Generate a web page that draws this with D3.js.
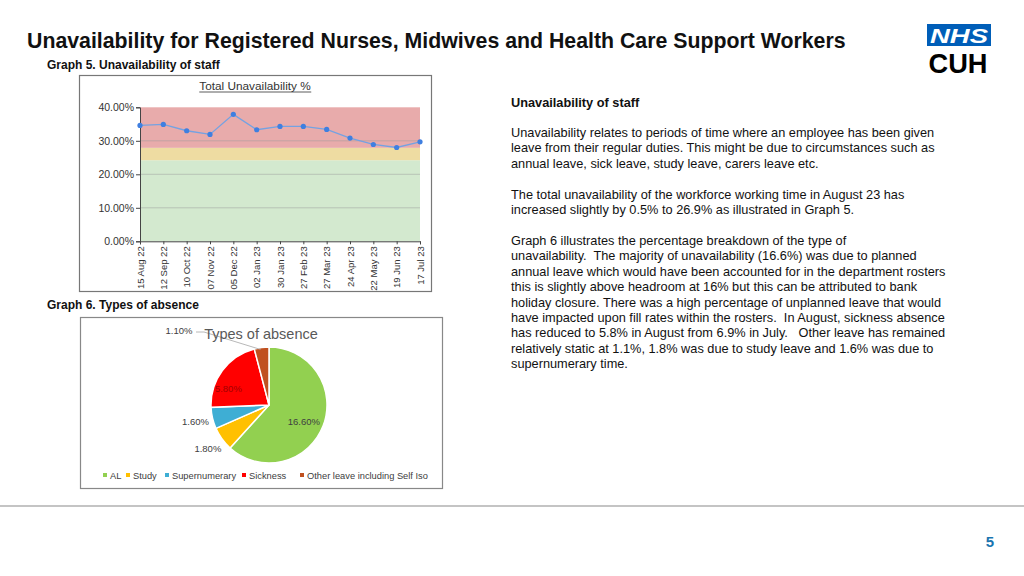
<!DOCTYPE html>
<html>
<head>
<meta charset="utf-8">
<script src="https://cdn.jsdelivr.net/npm/d3@7/dist/d3.min.js"></script>
<style>
  html, body { margin: 0; padding: 0; background: #fff; }
  svg { display: block; font-family: "Liberation Sans", Arial, sans-serif; }
  .pre { white-space: pre; }
</style>
</head>
<body>
<svg id="page" width="1024" height="576"></svg>
<script>
// ---------- DATA ----------
const weeks = ["15 Aug 22","12 Sep 22","10 Oct 22","07 Nov 22","05 Dec 22","02 Jan 23","30 Jan 23","27 Feb 23","27 Mar 23","24 Apr 23","22 May 23","19 Jun 23","17 Jul 23"];
const totalUnavailability = [34.6, 34.9, 33.0, 31.9, 37.9, 33.3, 34.3, 34.3, 33.4, 30.8, 28.9, 28.0, 29.7];
const yTicks = [0, 10, 20, 30, 40];
const bandLower = [0, 24.2, 27.9];
const bandUpper = [24.2, 27.9, 40];
const bandColors = ["#d3e9cf", "#eedca2", "#e8abab"];

const absenceTypes = ["AL", "Study", "Supernumerary", "Sickness", "Other leave including Self Iso"];
const absenceValues = [16.6, 1.8, 1.6, 5.8, 1.1];
const absenceColors = ["#92d050", "#ffc000", "#3eaed4", "#ff0000", "#c0501f"];

const paragraphs = [
  ["Unavailability relates to periods of time where an employee has been given",
   "leave from their regular duties. This might be due to circumstances such as",
   "annual leave, sick leave, study leave, carers leave etc."],
  ["The total unavailability of the workforce working time in August 23 has",
   "increased slightly by 0.5% to 26.9% as illustrated in Graph 5."],
  ["Graph 6 illustrates the percentage breakdown of the type of",
   "unavailability.  The majority of unavailability (16.6%) was due to planned",
   "annual leave which would have been accounted for in the department rosters",
   "this is slightly above headroom at 16% but this can be attributed to bank",
   "holiday closure. There was a high percentage of unplanned leave that would",
   "have impacted upon fill rates within the rosters.  In August, sickness absence",
   "has reduced to 5.8% in August from 6.9% in July.   Other leave has remained",
   "relatively static at 1.1%, 1.8% was due to study leave and 1.6% was due to",
   "supernumerary time."]
];

// ---------- PAGE ----------
const svg = d3.select("#page");

svg.append("text").attr("x", 27).attr("y", 48)
  .attr("font-size", 21.3).attr("font-weight", "bold").attr("fill", "#111")
  .text("Unavailability for Registered Nurses, Midwives and Health Care Support Workers");
svg.append("text").attr("x", 47).attr("y", 69)
  .attr("font-size", 12).attr("font-weight", "bold").attr("fill", "#111")
  .text("Graph 5. Unavailability of staff");
svg.append("text").attr("x", 47).attr("y", 309)
  .attr("font-size", 12).attr("font-weight", "bold").attr("fill", "#111")
  .text("Graph 6. Types of absence");

// NHS logo
const logo = svg.append("g");
logo.append("rect").attr("x", 927).attr("y", 24).attr("width", 64).attr("height", 22).attr("fill", "#005eb8");
logo.append("text").attr("x", 959).attr("y", 42.5).attr("text-anchor", "middle")
  .attr("font-size", 20).attr("font-weight", "bold").attr("font-style", "italic").attr("fill", "#fff")
  .attr("textLength", 58).attr("lengthAdjust", "spacingAndGlyphs").text("NHS");
logo.append("text").attr("x", 958).attr("y", 73).attr("text-anchor", "middle")
  .attr("font-size", 28).attr("font-weight", "bold").attr("fill", "#000")
  .attr("textLength", 59).attr("lengthAdjust", "spacingAndGlyphs").text("CUH");

// Right text block
const tb = svg.append("g").attr("font-size", 12.75).attr("fill", "#111");
tb.append("text").attr("x", 511).attr("y", 107).attr("font-weight", "bold").text("Unavailability of staff");
const paraStarts = [137, 199, 245];
paragraphs.forEach((lines, pi) => {
  lines.forEach((ln, li) => {
    tb.append("text").attr("class", "pre").attr("x", 511).attr("y", paraStarts[pi] + li * 15.4).text(ln);
  });
});

// Footer rule and page number
svg.append("line").attr("x1", 0).attr("x2", 1024).attr("y1", 506).attr("y2", 506)
  .attr("stroke", "#b0b0b0").attr("stroke-width", 1.5);
svg.append("text").attr("x", 990).attr("y", 547).attr("text-anchor", "middle")
  .attr("font-size", 15).attr("font-weight", "bold").attr("fill", "#1a75b0").text("5");

// ---------- GRAPH 5: LINE CHART ----------
svg.append("rect").attr("x", 79.5).attr("y", 75.5).attr("width", 352).attr("height", 216)
  .attr("fill", "#fff").attr("stroke", "#777").attr("stroke-width", 1.2);

const plot = { left: 140, right: 420, top: 107.3, bottom: 241.3 };
const x = d3.scalePoint().domain(weeks).range([plot.left, plot.right]).padding(0);
const y = d3.scaleLinear().domain([0, 40]).range([plot.bottom, plot.top]);

const g5 = svg.append("g");
g5.selectAll("rect.band").data(bandLower).enter().append("rect").attr("class", "band")
  .attr("x", plot.left).attr("width", plot.right - plot.left)
  .attr("y", (d, i) => y(bandUpper[i])).attr("height", (d, i) => y(d) - y(bandUpper[i]))
  .attr("fill", (d, i) => bandColors[i]);

g5.selectAll("line.grid").data(yTicks.filter(t => t > 0 && t < 40)).enter().append("line")
  .attr("x1", plot.left).attr("x2", plot.right)
  .attr("y1", d => y(d)).attr("y2", d => y(d))
  .attr("stroke", "#9a9a9a").attr("stroke-opacity", 0.6).attr("stroke-width", 0.8);

const yAxis = g5.append("g").attr("transform", `translate(${plot.left},0)`)
  .call(d3.axisLeft(y).tickValues(yTicks).tickSize(4).tickPadding(2).tickFormat(d => d.toFixed(2) + "%"));
yAxis.select(".domain").attr("stroke", "#444");
yAxis.selectAll(".tick line").attr("stroke", "#444");
yAxis.selectAll("text").attr("font-size", 10.5).attr("fill", "#333").attr("font-family", "Liberation Sans, Arial");

const xAxis = g5.append("g").attr("transform", `translate(0,${plot.bottom})`)
  .call(d3.axisBottom(x).tickSize(3).tickPadding(4));
xAxis.select(".domain").attr("stroke", "#444");
xAxis.selectAll(".tick line").attr("stroke", "#444");
xAxis.selectAll("text")
  .attr("font-size", 9.5).attr("fill", "#333")
  .attr("font-family", "Liberation Sans Narrow, Arial Narrow, Liberation Sans")
  .attr("text-anchor", "end").attr("dy", "0.32em")
  .attr("transform", "rotate(-90)").attr("x", -5).attr("y", 0);

g5.append("path").datum(totalUnavailability)
  .attr("fill", "none").attr("stroke", "#74a2e2").attr("stroke-width", 1.3)
  .attr("d", d3.line().x((d, i) => x(weeks[i])).y(d => y(d)));
g5.selectAll("circle.pt").data(totalUnavailability).enter().append("circle")
  .attr("cx", (d, i) => x(weeks[i])).attr("cy", d => y(d)).attr("r", 2.6)
  .attr("fill", "#3f7fe0");

const t5 = g5.append("text").attr("x", 255).attr("y", 90).attr("text-anchor", "middle")
  .attr("font-size", 11.8).attr("fill", "#333").text("Total Unavailability %");
const tb5 = t5.node().getBBox();
g5.append("line").attr("x1", tb5.x).attr("x2", tb5.x + tb5.width).attr("y1", 92).attr("y2", 92)
  .attr("stroke", "#333").attr("stroke-width", 0.8);

// ---------- GRAPH 6: PIE ----------
svg.append("rect").attr("x", 80.5).attr("y", 317.5).attr("width", 362).attr("height", 171)
  .attr("fill", "#fff").attr("stroke", "#888").attr("stroke-width", 1.2);

const cx = 269, cy = 405, r = 58;
const pie = d3.pie().sort(null).value(d => d)(absenceValues);
const arc = d3.arc().innerRadius(0).outerRadius(r);
const inArc = d3.arc().innerRadius(r * 0.7).outerRadius(r * 0.7);
const outArc = d3.arc().innerRadius(r * 1.3).outerRadius(r * 1.3);
const g6 = svg.append("g").attr("transform", `translate(${cx},${cy})`);

g6.selectAll("path.slice").data(pie).enter().append("path")
  .attr("d", arc).attr("fill", (d, i) => absenceColors[i])
  .attr("stroke", "#fff").attr("stroke-width", 1.5);

svg.append("text").attr("x", 261).attr("y", 339).attr("text-anchor", "middle")
  .attr("font-size", 14.5).attr("fill", "#595959").text("Types of absence");

const fmt = v => v.toFixed(2) + "%";
pie.forEach((d, i) => {
  let pos, color = "#404040";
  if (i === 0) { pos = inArc.centroid(d); pos = [pos[0] - 3, pos[1] + 2]; }
  else if (i === 3) { pos = inArc.centroid(d); pos = [pos[0] - 8, pos[1] + 8]; color = "#a30000"; }
  else if (i === 4) {
    pos = [-90, -74];
    const edge = d3.arc().innerRadius(r).outerRadius(r).centroid(d);
    g6.append("polyline")
      .attr("points", [[pos[0] + 17, pos[1] + 1], [pos[0] + 25, pos[1] + 1], [edge[0] - 1, edge[1] + 2]].map(p => p.join(",")).join(" "))
      .attr("fill", "none").attr("stroke", "#a6a6a6").attr("stroke-width", 0.8);
  }
  else { pos = outArc.centroid(d); }
  g6.append("text").attr("x", pos[0]).attr("y", pos[1]).attr("dy", "0.35em")
    .attr("text-anchor", "middle").attr("font-size", 9.5).attr("fill", color).text(fmt(absenceValues[i]));
});

// Legend
const legendX = [105, 128, 167, 244, 302];
const lg = svg.append("g").attr("font-size", 9.3).attr("fill", "#404040");
absenceTypes.forEach((name, i) => {
  lg.append("rect").attr("x", legendX[i] - 2).attr("y", 473).attr("width", 4).attr("height", 4).attr("fill", absenceColors[i]);
  lg.append("text").attr("x", legendX[i] + 5).attr("y", 478.5).text(name);
});
</script>
</body>
</html>
